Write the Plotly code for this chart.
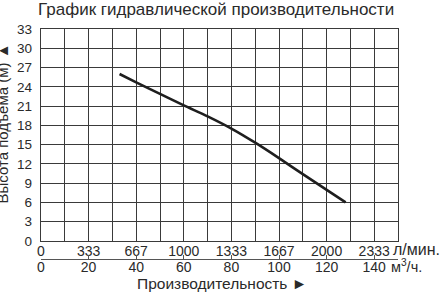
import plotly.graph_objects as go

# Data (flow in m³/h, head in m)
flow_m3h = [33, 40, 50, 60, 70, 80, 90, 100, 110, 128]
head_m = [26.0, 24.7, 22.9, 21.1, 19.4, 17.5, 15.3, 12.9, 10.4, 6.0]

# Tick labels
lpm_tickvals = [0, 20, 40, 60, 80, 100, 120, 140]
lpm_ticktext = ["0", "333", "667", "1000", "1333", "1667", "2000", "2333"]
m3h_tickvals = [0, 20, 40, 60, 80, 100, 120, 140]
m3h_ticktext = ["0", "20", "40", "60", "80", "100", "120", "140"]
y_tickvals = list(range(0, 34, 3))

title_text = "График гидравлической производительности"
x_title = "Производительность ►"
y_title = "Высота подъема (м) ▲"
unit_lpm = "л/мин."
unit_m3h = "м<sup>3</sup>/ч."

FONT = "Liberation Sans"
TXT = "#2a2a2a"
GRID = "#3a3a3a"

W, H = 448, 293
ml, mr, mt, mb = 41, 50, 29, 10
plot_bottom_px = 241
paper_h = H - mt - mb
paper_w = W - ml - mr
y_dom0 = (H - mb - plot_bottom_px) / paper_h
line_px = 258.7
x3_pos = (H - mb - line_px) / paper_h


def px_x(px):
    return (px - ml) / paper_w


def px_y(py):
    return (H - mb - py) / paper_h


fig = go.Figure()
fig.add_trace(go.Scatter(
    x=flow_m3h, y=head_m, mode="lines",
    line=dict(color="#1e1e1e", width=2.6, shape="spline", smoothing=0.8),
    xaxis="x", yaxis="y", showlegend=False, hoverinfo="skip",
))
# invisible traces to activate extra axes
fig.add_trace(go.Scatter(x=[0], y=[0], mode="markers", marker=dict(opacity=0),
                         xaxis="x2", yaxis="y", showlegend=False, hoverinfo="skip"))
fig.add_trace(go.Scatter(x=[0], y=[0], mode="markers", marker=dict(opacity=0),
                         xaxis="x3", yaxis="y", showlegend=False, hoverinfo="skip"))

fig.update_layout(
    width=W, height=H,
    margin=dict(l=ml, r=mr, t=mt, b=mb, autoexpand=False),
    paper_bgcolor="white", plot_bgcolor="white",
    font=dict(family=FONT, color=TXT, size=13),
    xaxis=dict(
        range=[0, 150], tickmode="linear", tick0=0, dtick=10,
        showticklabels=False, showgrid=True, gridcolor=GRID, gridwidth=1.4,
        showline=True, linecolor=GRID, linewidth=1.4, mirror=True,
        zeroline=False, ticks="", anchor="y", fixedrange=True,
    ),
    xaxis2=dict(
        range=[0, 150], overlaying="x", anchor="y", side="bottom",
        tickmode="array", tickvals=lpm_tickvals, ticktext=lpm_ticktext,
        showgrid=False, showline=False, zeroline=False, ticks="",
        tickfont=dict(size=14, color=TXT, family=FONT), ticklabelstandoff=0,
    ),
    xaxis3=dict(
        range=[0, 150], overlaying="x", anchor="free", position=x3_pos, side="bottom",
        tickmode="array", tickvals=m3h_tickvals, ticktext=m3h_ticktext,
        showgrid=False, showline=True, linecolor="#555", linewidth=1.2,
        zeroline=False, ticks="inside", ticklen=4, tickcolor="#555", tickwidth=1,
        tickfont=dict(size=14, color=TXT, family=FONT), ticklabelstandoff=-5,
    ),
    yaxis=dict(
        range=[0, 33], domain=[y_dom0, 1], tickmode="array", tickvals=y_tickvals,
        showgrid=True, gridcolor=GRID, gridwidth=1.4,
        showline=True, linecolor=GRID, linewidth=1.4, mirror=True,
        zeroline=False, ticks="", ticklabelstandoff=5,
        tickfont=dict(size=13.5, color=TXT, family=FONT), fixedrange=True,
    ),
    annotations=[
        dict(text=title_text, xref="paper", yref="paper", x=px_x(216),
             y=px_y(10), xanchor="center", yanchor="middle",
             showarrow=False, font=dict(size=17, color=TXT, family=FONT)),
        dict(text=y_title, xref="paper", yref="paper", x=px_x(2),
             y=px_y(123.5), xanchor="center", yanchor="middle",
             textangle=-90, showarrow=False, font=dict(size=15, color=TXT, family=FONT)),
        dict(text=x_title, xref="paper", yref="paper", x=px_x(222),
             y=px_y(283), xanchor="center", yanchor="middle",
             showarrow=False, font=dict(size=15.5, color=TXT, family=FONT)),
        dict(text=unit_lpm, xref="paper", yref="paper", x=px_x(391),
             y=px_y(249), xanchor="left", yanchor="middle",
             showarrow=False, font=dict(size=16, color=TXT, family=FONT)),
        dict(text=unit_m3h, xref="paper", yref="paper", x=px_x(389),
             y=px_y(266), xanchor="left", yanchor="middle",
             showarrow=False, font=dict(size=14.5, color=TXT, family=FONT)),
    ],
)

fig.write_html("out.html")
